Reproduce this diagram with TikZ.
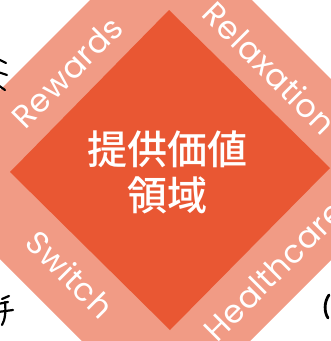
\documentclass[tikz,border=0pt]{standalone}
\usepackage{fontspec}
\newfontfamily\cjk{Noto Sans CJK JP Medium}
\newfontfamily\lab[LetterSpace=2]{Poppins}
\definecolor{inner}{RGB}{233,87,51}
\definecolor{outer}{RGB}{241,155,133}
\tikzset{
  band/.style={text=white,font=\lab\fontsize{32}{32}\selectfont,inner sep=0pt},
  scrawl/.style={line width=2.2pt,line cap=round,line join=round,black},
}
\begin{document}
\begin{tikzpicture}[x=1pt,y=-1pt]
\useasboundingbox (0,0) rectangle (331,341);
\clip (0,0) rectangle (331,341);
\fill[white] (0,0) rectangle (331,341);
% outer band
\fill[outer] (171,-81) -- (421.5,169.5) -- (166,425) -- (-84.5,174.5) -- cycle;
% inner diamond
\fill[inner] (169,10) -- (330,168) -- (170,330) -- (10,172) -- cycle;
% centre text
\node[text=white,font=\cjk\fontsize{40}{46}\selectfont,align=center,inner sep=0pt] (core) at (168,172) {提供価値\\領域};
% band labels
\node[band,rotate=45] (rew) at (67,72) {Rewards};
\node[band,rotate=-45,anchor=west] (rel) at (209,7) {Relaxation};
\node[band,rotate=-45] (swi) at (70,274) {Switch};
\node[band,rotate=45,anchor=west] (hea) at (209,335) {Healthcare};
% handwritten fragments at edges
\draw[scrawl] (-2,59) -- (6,63);
\draw[scrawl] (-2,72) -- (7,75);
\draw[scrawl] (-2,85) -- (5,90);
\draw[scrawl] (2,299) -- (9,296);
\draw[scrawl] (-2,304) -- (8,302);
\draw[scrawl] (-2,312) -- (13,310);
\draw[scrawl] (5,302) .. controls (6,312) and (5,320) .. (2,325);
\draw[scrawl,line width=2.8pt] (329,295) .. controls (324,302) and (324,312) .. (328,318);
\end{tikzpicture}
\end{document}
